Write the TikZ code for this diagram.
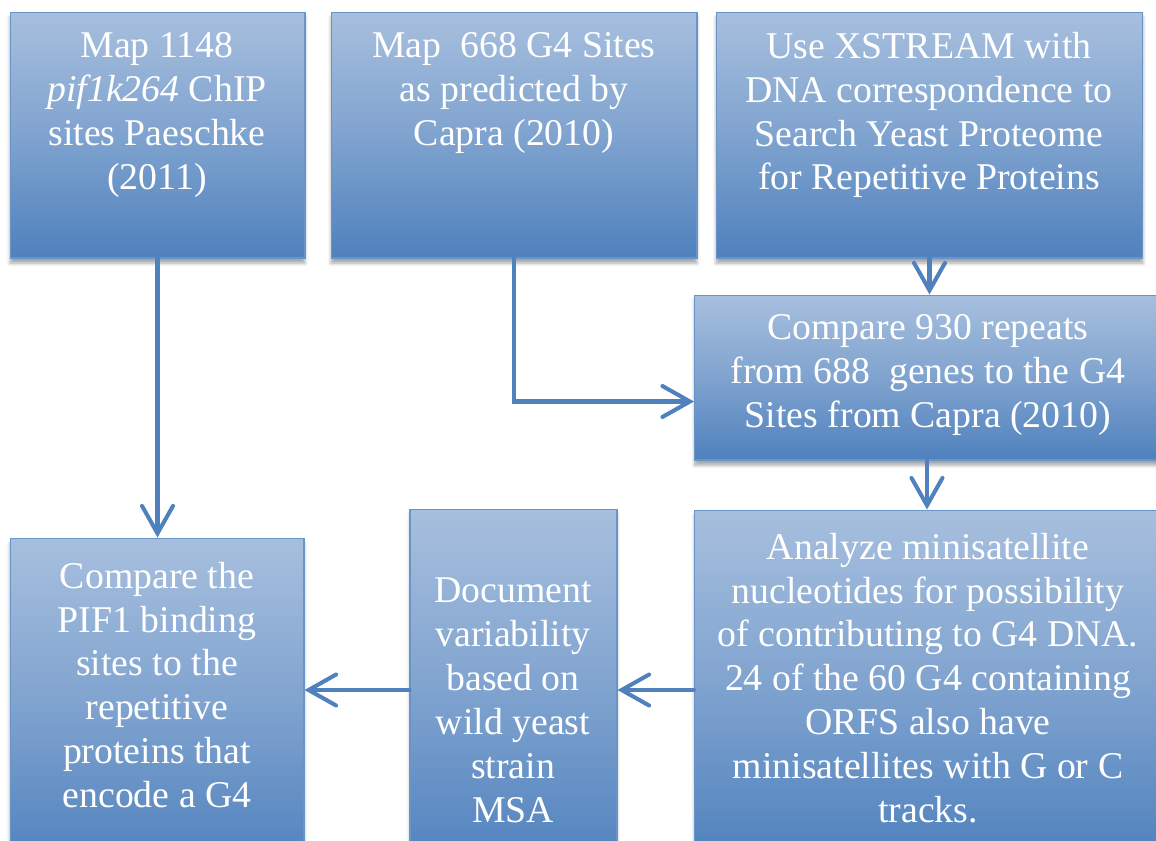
\documentclass[tikz,border=0pt]{standalone}
\usepackage{fontspec}
\setmainfont{Liberation Serif}
\usetikzlibrary{arrows.meta,shadows.blur}
\definecolor{boxtop}{RGB}{167,191,222}
\definecolor{boxbot}{RGB}{79,129,189}
\definecolor{lineblue}{RGB}{79,129,189}
\begin{document}
\begin{tikzpicture}[x=0.02cm,y=-0.02cm,
    box/.style={rectangle, draw=lineblue!85!white, line width=0.6pt,
        top color=boxtop, bottom color=boxbot, middle color=boxtop!55!boxbot,
        blur shadow={shadow xshift=0pt, shadow yshift=-3pt, shadow blur steps=6, shadow opacity=35}},
    txt/.style={align=center, text=white, font=\fontsize{21.5}{25}\selectfont},
    flow/.style={draw=lineblue, line width=2.3pt, line cap=round,
        -{Straight Barb[length=0.55cm, width=0.62cm, line cap=round]}}]
    \useasboundingbox (0,0) rectangle (1156,840);
    \clip (0,0) rectangle (1156,840);

    %riquadri sopra
    \node[box, minimum width=5.9cm, minimum height=4.92cm] (a) at (157.5,135) {};
    \node[box, minimum width=7.32cm, minimum height=4.92cm] (b) at (514,135) {};
    \node[box, minimum width=8.54cm, minimum height=4.92cm] (c) at (929.5,135) {};
    \node[txt] (ta) at (157,115) {Map 1148\\\textit{pif1k264} ChIP\\sites Paeschke\\(2011)};
    \node[txt] (tb) at (514,93) {Map\ \ 668 G4 Sites\\as predicted by\\Capra (2010)};
    \node[txt] (tc) at (929,115) {Use XSTREAM with\\DNA correspondence to\\Search Yeast Proteome\\for Repetitive Proteins};

    %riquadro in mezzo
    \node[box, minimum width=9.3cm, minimum height=3.3cm] (d) at (927,377.5) {};
    \node[txt] (td) at (928,375) {Compare 930 repeats\\from 688\ \ genes to the G4\\Sites from Capra (2010)};

    %riquadri sotto
    \node[box, minimum width=9.3cm, minimum height=7cm] (e) at (927,685) {};
    \node[box, minimum width=4.14cm, minimum height=7.22cm] (f) at (513.5,689.5) {};
    \node[box, minimum width=5.88cm, minimum height=6.64cm] (g) at (157,704) {};
    \node[txt] (te) at (928,678) {Analyze minisatellite\\nucleotides for possibility\\of contributing to G4 DNA.\\24 of the 60 G4 containing\\ORFS also have\\minisatellites with G or C\\tracks.};
    \node[txt] (tf) at (513,700) {Document\\variability\\based on\\wild yeast\\strain\\MSA};
    \node[txt] (tg) at (157,685) {Compare the\\PIF1 binding\\sites to the\\repetitive\\proteins that\\encode a G4};

    %frecce
    \draw[flow] (a.south) -- (a.south |- g.north);
    \draw[flow] (b.south) |- ([yshift=-0.48cm]d.west);
    \draw[flow] (c.south) -- (c.south |- d.north);
    \draw[flow] (d.south) -- (d.south |- e.north);
    \draw[flow] (e.west |- 0,690) -- (f.east |- 0,690);
    \draw[flow] (f.west |- 0,690) -- (g.east |- 0,690);
\end{tikzpicture}
\end{document}
